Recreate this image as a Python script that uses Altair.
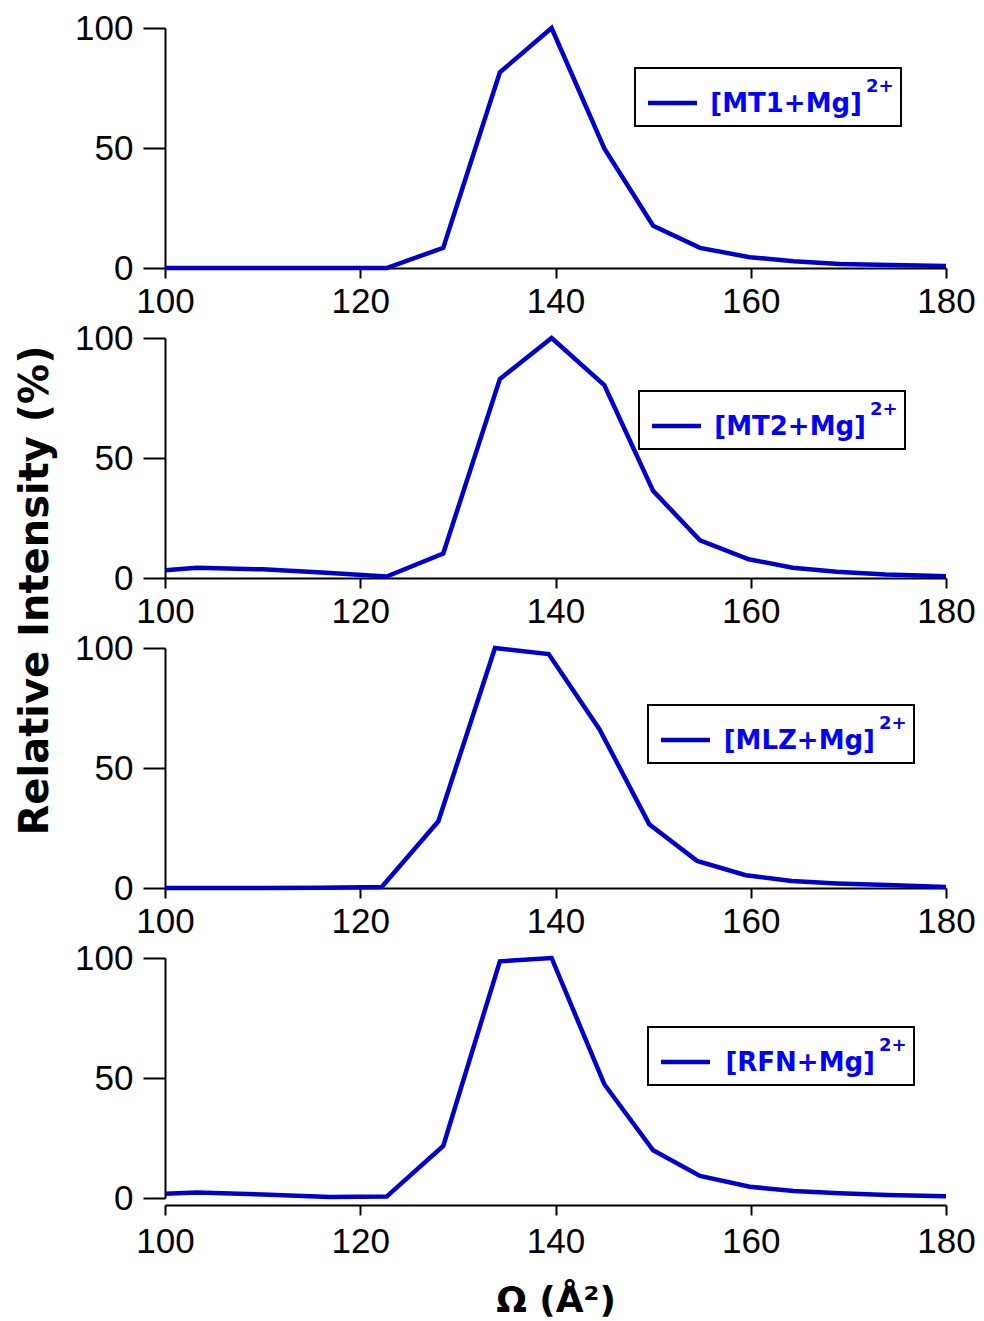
import altair as alt
import pandas as pd

names = ["MT1", "MT2", "MLZ", "RFN"]

mt1_x = [100, 103.3, 110.0, 116.5, 122.7, 128.5, 134.3, 139.6, 145.0, 150.0, 154.8, 159.9, 164.4, 169.1, 174.3, 180]
mt1_y = [0, 0, 0, 0, 0, 8.4, 81.5, 100, 49.8, 17.6, 8.4, 4.5, 2.8, 1.7, 1.2, 0.8]

mt2_x = [100, 103.3, 110.0, 116.5, 122.7, 128.5, 134.3, 139.6, 145.0, 150.0, 154.8, 159.8, 164.3, 168.8, 173.8, 180]
mt2_y = [3.2, 4.3, 3.6, 2.2, 0.6, 10.2, 82.9, 100, 80.4, 36.3, 15.7, 7.8, 4.3, 2.6, 1.5, 0.7]

mlz_x = [100, 110.0, 116.0, 122.2, 128.0, 133.8, 139.3, 144.5, 149.6, 154.5, 159.5, 164.2, 168.8, 174.0, 180]
mlz_y = [0, 0, 0.1, 0.4, 27.8, 100, 97.5, 66.2, 26.6, 11.3, 5.3, 2.9, 1.9, 1.2, 0.4]

rfn_x = [100, 103.3, 110.0, 116.9, 122.7, 128.5, 134.3, 139.6, 145.0, 150.0, 154.8, 159.9, 164.4, 169.1, 174.0, 180]
rfn_y = [1.8, 2.3, 1.5, 0.4, 0.6, 21.7, 98.6, 100, 47.4, 19.9, 9.2, 4.7, 2.9, 2.0, 1.3, 0.7]

series_x = [mt1_x, mt2_x, mlz_x, rfn_x]
series_y = [mt1_y, mt2_y, mlz_y, rfn_y]

x_ticks = [100, 120, 140, 160, 180]
y_ticks = [0, 50, 100]

LINE = "#0000cc"
TEXT = "#0000ff"

# legend box positions (pixels, relative to each panel's plot area)
legend_pos = [(470, 40), (474, 53), (483, 57), (483, 69)]


def panel(i):
    name = names[i]
    last = i == len(names) - 1
    df = pd.DataFrame({"omega": series_x[i], "intensity": series_y[i]})

    if last:
        x_axis = alt.Axis(values=x_ticks, title="Ω (Å²)", offset=7, tickSize=10,
                          labelPadding=9, titlePadding=24, titleFontSize=36,
                          labelFlush=False, labelOverlap=False)
    else:
        x_axis = alt.Axis(values=x_ticks, title=None, tickSize=10, labelPadding=6,
                          labelFlush=False, labelOverlap=False)

    if i == 1:
        y_axis = alt.Axis(values=y_ticks, title="Relative Intensity (%)", tickSize=22,
                          labelPadding=10, titleX=-118, titleY=252, titleAngle=270,
                          titleAlign="center", titleBaseline="alphabetic", titleFontSize=40,
                          labelFlush=False, labelOverlap=False)
    else:
        y_axis = alt.Axis(values=y_ticks, title=None, tickSize=22, labelPadding=10,
                          labelFlush=False, labelOverlap=False)

    line = alt.Chart(df).mark_line(color=LINE, strokeWidth=4.5).encode(
        x=alt.X("omega:Q", scale=alt.Scale(domain=[100, 180], nice=False, zero=False), axis=x_axis),
        y=alt.Y("intensity:Q", scale=alt.Scale(domain=[0, 100], nice=False), axis=y_axis),
    )

    bx, by = legend_pos[i]
    one = pd.DataFrame({"label": [f"[{name}+Mg]"], "sup": ["2+"]})
    box = alt.Chart(one).mark_rect(fill="white", stroke="black", strokeWidth=2).encode(
        x=alt.value(bx), x2=alt.value(bx + 266), y=alt.value(by), y2=alt.value(by + 58)
    )
    sample = alt.Chart(one).mark_rule(color=LINE, strokeWidth=4.5).encode(
        x=alt.value(bx + 13), x2=alt.value(bx + 62), y=alt.value(by + 35)
    )
    label = alt.Chart(one).mark_text(
        align="right", baseline="middle", font="DejaVu Sans", fontWeight="bold",
        fontSize=26, color=TEXT
    ).encode(x=alt.value(bx + 227), y=alt.value(by + 36), text="label:N")
    sup = alt.Chart(one).mark_text(
        align="left", baseline="middle", font="DejaVu Sans", fontWeight="bold",
        fontSize=18, color=TEXT
    ).encode(x=alt.value(bx + 231), y=alt.value(by + 19), text="sup:N")

    return alt.layer(line, box, sample, label, sup).properties(width=781, height=240)


chart = alt.vconcat(*[panel(i) for i in range(4)], spacing=70, bounds="flush").properties(
    padding={"left": 14, "top": 11, "right": 5, "bottom": 5}
).configure_view(stroke=None).configure_axis(
    domainColor="black", domainWidth=2, tickColor="black", tickWidth=2,
    labelFont="Liberation Sans", labelFontSize=35, labelColor="black", grid=False,
    titleFont="DejaVu Sans", titleFontWeight="bold", titleColor="black"
)

chart.save("out.html", embed_options={"renderer": "svg", "actions": False})
